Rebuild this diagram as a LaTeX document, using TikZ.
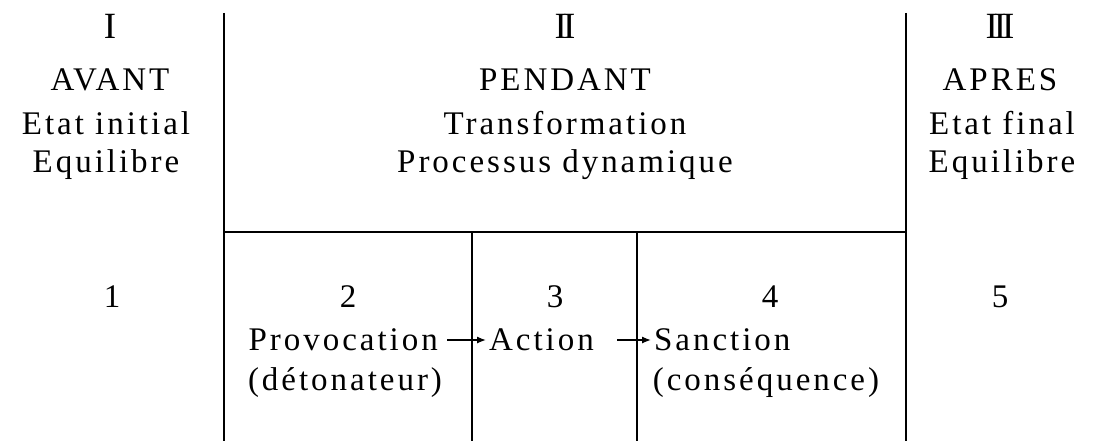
\documentclass[tikz,border=0pt]{standalone}
\usepackage{fontspec}
\setmainfont{Liberation Serif}[LetterSpace=9]
\usetikzlibrary{positioning,arrows.meta}
\tikzset{
    lbl/.style={inner sep=3pt, font=\fontsize{33}{38}\selectfont},
    num/.style={inner sep=3pt, font=\fontsize{37}{40}\selectfont},
    rule/.style={line width=1.5pt},
    flow/.style={-{Latex[length=9pt,width=7pt]}, line width=1.3pt},
}
\begin{document}
\begin{tikzpicture}[x=1pt, y=-1pt]
    \useasboundingbox (0,0) rectangle (1094,441);

    \coordinate (A) at (224,13);
    \coordinate (B) at (224,441);
    \coordinate (C) at (906,13);
    \coordinate (D) at (906,441);
    \coordinate (E) at (224,232);
    \coordinate (F) at (906,232);
    \coordinate (G) at (472,232);
    \coordinate (H) at (472,441);
    \coordinate (K) at (637,232);
    \coordinate (L) at (637,441);

    \draw[rule] (A) -- (B);
    \draw[rule] (C) -- (D);
    \draw[rule] (E) -- (F);
    \draw[rule] (G) -- (H);
    \draw[rule] (K) -- (L);

    % colonne I
    \node[num] (n1) at (110,26) {I};
    \node[lbl] (avant) at (110,80) {AVANT};
    \node[lbl] (einit) at (106,123) {Etat initial};
    \node[lbl] (equ1) at (106,165) {Equilibre};
    \node[lbl] (c1) at (112,297) {1};

    % colonne II
    \node[num] (n2) at (565,26) {I\kern-4ptI};
    \node[lbl] (pendant) at (565,80) {PENDANT};
    \node[lbl] (trans) at (565,123) {Transformation};
    \node[lbl] (proc) at (565,165) {Processus dynamique};

    \node[lbl] (c2) at (348,297) {2};
    \node[lbl] (c3) at (555,297) {3};
    \node[lbl] (c4) at (770,297) {4};

    \node[lbl, anchor=east] (prov) at (441,340) {Provocation};
    \node[lbl] (deto) at (345,383) {(détonateur)};
    \node[lbl, anchor=west] (act) at (486,340) {Action};
    \node[lbl, anchor=west] (sanc) at (651,340) {Sanction};
    \node[lbl] (cons) at (766,383) {(conséquence)};

    \draw[flow, shorten <=6pt] (prov) -- (act);
    \draw[flow, shorten <=20pt] (act) -- (sanc);

    % colonne III
    \node[num] (n3) at (1000,26) {I\kern-4ptI\kern-4ptI};
    \node[lbl] (apres) at (1000,80) {APRES};
    \node[lbl] (efin) at (1002,123) {Etat final};
    \node[lbl] (equ2) at (1002,165) {Equilibre};
    \node[lbl] (c5) at (1000,297) {5};
\end{tikzpicture}
\end{document}
